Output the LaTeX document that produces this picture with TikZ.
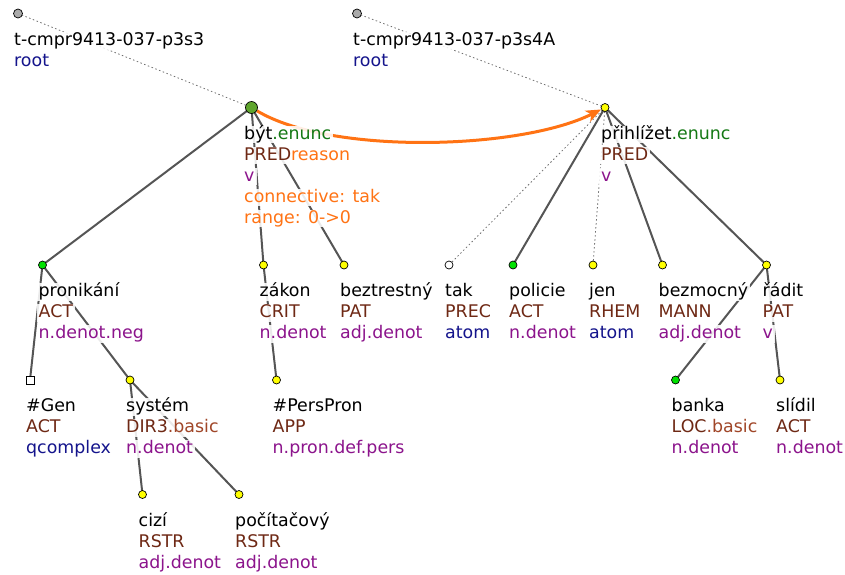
\documentclass[tikz,border=0pt]{standalone}
\usepackage{fontspec}
\setmainfont{DejaVu Sans}
\usetikzlibrary{arrows.meta}
\definecolor{edgegray}{RGB}{85,85,85}
\definecolor{dotgray}{RGB}{110,110,110}
\definecolor{fun}{RGB}{110,40,20}
\definecolor{funl}{RGB}{160,70,40}
\definecolor{sem}{RGB}{140,20,140}
\definecolor{navy}{RGB}{20,20,140}
\definecolor{enunc}{RGB}{20,120,20}
\definecolor{orng}{RGB}{255,115,20}
\definecolor{ygreen}{RGB}{95,165,45}
\definecolor{bgreen}{RGB}{0,225,0}
\definecolor{yel}{RGB}{255,255,0}
\definecolor{rootgray}{RGB}{170,170,170}
\pgfdeclarelayer{bg}
\pgfsetlayers{bg,main}
\newcommand\LL[4]{\node[lab] (#1) at (#2,#3) {#4};}
\begin{document}
\begin{tikzpicture}[x=1pt,y=-1pt,
  tn/.style={circle,draw=black,line width=0.7pt,inner sep=0pt,minimum size=8pt},
  yn/.style={tn,fill=yel},
  gn/.style={tn,fill=bgreen},
  wn/.style={tn,fill=white},
  rn/.style={tn,fill=rootgray,minimum size=9pt},
  sq/.style={rectangle,draw=black,line width=0.7pt,inner sep=0pt,minimum size=8pt,fill=white},
  lab/.style={anchor=base west,inner xsep=2pt,inner ysep=0pt,text height=13.5pt,text depth=4pt,fill=white,fill opacity=0.88,text opacity=1,font=\fontsize{17.4}{21}\selectfont},
  edge/.style={draw=edgegray,line width=2pt},
  depl/.style={draw=dotgray,line width=0.8pt,dash pattern=on 1.5pt off 2.5pt},
]
\useasboundingbox (0,0) rectangle (845,574);

% tree nodes
\node[rn] (r1) at (18,13.5) {};
\node[rn] (r2) at (357,13.5) {};
\node[tn,fill=ygreen,minimum size=12pt] (byt) at (251.5,107.5) {};
\node[yn] (prih) at (605,107.5) {};
\node[gn] (pron) at (42.5,265) {};
\node[yn] (zakon) at (263.5,265) {};
\node[yn] (bez) at (344,265) {};
\node[wn] (tak) at (449,265) {};
\node[gn] (pol) at (513,265) {};
\node[yn] (jen) at (593,265) {};
\node[yn] (bezm) at (662.5,265) {};
\node[yn] (radit) at (766.5,265) {};
\node[sq] (gen) at (30,380) {};
\node[yn] (sys) at (130,380) {};
\node[yn] (pers) at (276.5,380) {};
\node[gn] (banka) at (675.5,380) {};
\node[yn] (slid) at (780,380) {};
\node[yn] (cizi) at (142.5,494.5) {};
\node[yn] (poc) at (239,494.5) {};

\begin{pgfonlayer}{bg}
\draw[depl] (r1.center) -- (byt.center);
\draw[depl] (r2.center) -- (prih.center);
\draw[depl] (prih.center) -- (tak.center);
\draw[depl] (prih.center) -- (jen.center);
\draw[edge] (byt.center) -- (pron.center);
\draw[edge] (byt.center) -- (zakon.center);
\draw[edge] (byt.center) -- (bez.center);
\draw[edge] (prih.center) -- (pol.center);
\draw[edge] (prih.center) -- (bezm.center);
\draw[edge] (prih.center) -- (radit.center);
\draw[edge] (pron.center) -- (gen.center);
\draw[edge] (pron.center) -- (sys.center);
\draw[edge] (sys.center) -- (cizi.center);
\draw[edge] (sys.center) -- (poc.center);
\draw[edge] (zakon.center) -- (pers.center);
\draw[edge] (radit.center) -- (banka.center);
\draw[edge] (radit.center) -- (slid.center);
\draw[orng,line width=3pt,-{Stealth[length=15pt,width=12pt,inset=4pt]}] (byt) .. controls (330,155) and (520,150) .. (prih);
\end{pgfonlayer}

% labels (one node per line)
\LL{r1a}{12}{45.5}{t-cmpr9413-037-p3s3}
\LL{r1b}{12}{66.5}{\textcolor{navy}{root}}
\LL{r2a}{351}{45.5}{t-cmpr9413-037-p3s4A}
\LL{r2b}{351}{66.5}{\textcolor{navy}{root}}

\LL{byta}{242}{139}{být\textcolor{enunc}{.enunc}}
\LL{bytb}{242}{160}{\textcolor{fun}{PRED}\textcolor{orng}{reason}}
\LL{bytc}{242}{181}{\textcolor{sem}{v}}
\LL{bytd}{242}{202}{\textcolor{orng}{connective: tak}}
\LL{byte}{242}{223}{\textcolor{orng}{range: 0->0}}

\LL{priha}{599}{139}{přihlížet\textcolor{enunc}{.enunc}}
\LL{prihb}{599}{160}{\textcolor{fun}{PRED}}
\LL{prihc}{599}{181}{\textcolor{sem}{v}}

\LL{prona}{36.5}{296.5}{pronikání}
\LL{pronb}{36.5}{317.5}{\textcolor{fun}{ACT}}
\LL{pronc}{36.5}{338.5}{\textcolor{sem}{n.denot.neg}}

\LL{zakona}{257.5}{296.5}{zákon}
\LL{zakonb}{257.5}{317.5}{\textcolor{fun}{CRIT}}
\LL{zakonc}{257.5}{338.5}{\textcolor{sem}{n.denot}}

\LL{beza}{338}{296.5}{beztrestný}
\LL{bezb}{338}{317.5}{\textcolor{fun}{PAT}}
\LL{bezc}{338}{338.5}{\textcolor{sem}{adj.denot}}

\LL{taka}{443}{296.5}{tak}
\LL{takb}{443}{317.5}{\textcolor{fun}{PREC}}
\LL{takc}{443}{338.5}{\textcolor{navy}{atom}}

\LL{pola}{507}{296.5}{policie}
\LL{polb}{507}{317.5}{\textcolor{fun}{ACT}}
\LL{polc}{507}{338.5}{\textcolor{sem}{n.denot}}

\LL{jena}{587}{296.5}{jen}
\LL{jenb}{587}{317.5}{\textcolor{fun}{RHEM}}
\LL{jenc}{587}{338.5}{\textcolor{navy}{atom}}

\LL{bezma}{656.5}{296.5}{bezmocný}
\LL{bezmb}{656.5}{317.5}{\textcolor{fun}{MANN}}
\LL{bezmc}{656.5}{338.5}{\textcolor{sem}{adj.denot}}

\LL{radita}{760.5}{296.5}{řádit}
\LL{raditb}{760.5}{317.5}{\textcolor{fun}{PAT}}
\LL{raditc}{760.5}{338.5}{\textcolor{sem}{v}}

\LL{gena}{24}{411.5}{\#Gen}
\LL{genb}{24}{432.5}{\textcolor{fun}{ACT}}
\LL{genc}{24}{453.5}{\textcolor{navy}{qcomplex}}

\LL{sysa}{124}{411.5}{systém}
\LL{sysb}{124}{432.5}{\textcolor{fun}{DIR3}\textcolor{funl}{.basic}}
\LL{sysc}{124}{453.5}{\textcolor{sem}{n.denot}}

\LL{persa}{270.5}{411.5}{\#PersPron}
\LL{persb}{270.5}{432.5}{\textcolor{fun}{APP}}
\LL{persc}{270.5}{453.5}{\textcolor{sem}{n.pron.def.pers}}

\LL{bankaa}{669.5}{411.5}{banka}
\LL{bankab}{669.5}{432.5}{\textcolor{fun}{LOC}\textcolor{funl}{.basic}}
\LL{bankac}{669.5}{453.5}{\textcolor{sem}{n.denot}}

\LL{slida}{774}{411.5}{slídil}
\LL{slidb}{774}{432.5}{\textcolor{fun}{ACT}}
\LL{slidc}{774}{453.5}{\textcolor{sem}{n.denot}}

\LL{cizia}{136.5}{526}{cizí}
\LL{cizib}{136.5}{547}{\textcolor{fun}{RSTR}}
\LL{cizic}{136.5}{568}{\textcolor{sem}{adj.denot}}

\LL{poca}{233}{526}{počítačový}
\LL{pocb}{233}{547}{\textcolor{fun}{RSTR}}
\LL{pocc}{233}{568}{\textcolor{sem}{adj.denot}}
\end{tikzpicture}
\end{document}
